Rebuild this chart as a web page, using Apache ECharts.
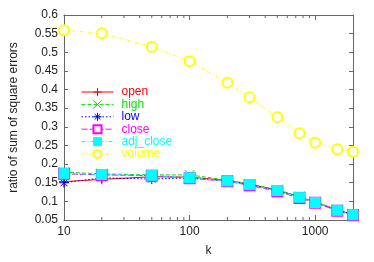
<!DOCTYPE html>
<html>
<head>
<meta charset="utf-8">
<script src="https://cdn.jsdelivr.net/npm/echarts@6/dist/echarts.min.js"></script>
<style>html,body{margin:0;padding:0;background:#fff;}#chart{width:374px;height:262px;}</style>
</head>
<body>
<div id="chart"></div>
<script>
const k = [10, 20, 50, 100, 200, 300, 500, 750, 1000, 1500, 2000];
const openVals = [0.153, 0.159, 0.166, 0.165, 0.156, 0.146, 0.130, 0.112, 0.098, 0.077, 0.065];
const highVals = [0.178, 0.174, 0.171, 0.171, 0.157, 0.147, 0.131, 0.113, 0.099, 0.078, 0.066];
const lowVals = [0.150, 0.163, 0.160, 0.163, 0.155, 0.145, 0.129, 0.111, 0.097, 0.076, 0.064];
const closeVals = [0.174, 0.171, 0.169, 0.162, 0.154, 0.143, 0.127, 0.109, 0.096, 0.075, 0.063];
const adjCloseVals = [0.175, 0.172, 0.170, 0.163, 0.155, 0.145, 0.129, 0.111, 0.097, 0.076, 0.064];
const volumeVals = [0.559, 0.551, 0.515, 0.476, 0.418, 0.379, 0.326, 0.283, 0.257, 0.240, 0.233];
const minorTicks = [20, 30, 40, 50, 60, 70, 80, 90, 200, 300, 400, 500, 600, 700, 800, 900];

const X_MIN = 10, X_MAX = 2000, Y_MIN = 0.05, Y_MAX = 0.6;
const FONT = 'Liberation Sans';
const AXIS_COLOR = '#666';

const SYM_PLUS = 'path://M5,0L5,10M0,5L10,5';
const SYM_X = 'path://M0,0L10,10M10,0L0,10';
const SYM_STAR = 'path://M5,0L5,10M0,5L10,5M1.5,1.5L8.5,8.5M8.5,1.5L1.5,8.5';

function pairs(vals) { return k.map((x, i) => [x, vals[i]]); }

function mkSeries(name, vals, color, symbol, dash, fill) {
  return {
    name: name,
    type: 'line',
    data: pairs(vals),
    symbol: symbol,
    symbolSize: 10,
    showSymbol: true,
    lineStyle: { color: color, width: 1, type: dash },
    itemStyle: { color: fill, borderColor: color, borderWidth: 1 },
    emphasis: { disabled: true },
    z: 3
  };
}

const series = [
  mkSeries('open', openVals, '#ff0000', SYM_PLUS, 'solid', '#ff0000'),
  mkSeries('high', highVals, '#00e000', SYM_X, [4, 2], '#00e000'),
  mkSeries('low', lowVals, '#0000ff', SYM_STAR, [1.5, 2], '#0000ff'),
  mkSeries('close', closeVals, '#ff00ff', 'emptyRect', [6, 2], '#ff00ff'),
  mkSeries('adj_close', adjCloseVals, '#00ffff', 'rect', [4, 2, 1, 2], '#00ffff'),
  mkSeries('volume', volumeVals, '#ffff00', 'emptyCircle', [3, 2, 1, 2], '#ffff00')
];

series.push({
  type: 'custom',
  silent: true,
  data: minorTicks.map(v => [v]),
  encode: { x: 0 },
  renderItem: function (params, api) {
    const v = api.value(0);
    const b = api.coord([v, Y_MIN]);
    const t = api.coord([v, Y_MAX]);
    const style = { stroke: AXIS_COLOR, lineWidth: 1 };
    return {
      type: 'group',
      children: [
        { type: 'line', shape: { x1: b[0], y1: b[1], x2: b[0], y2: b[1] - 3 }, style: style },
        { type: 'line', shape: { x1: t[0], y1: t[1], x2: t[0], y2: t[1] + 3 }, style: style }
      ]
    };
  },
  z: 2
});

const legendColors = { open: '#ff0000', high: '#00e000', low: '#0000ff', close: '#ff00ff', adj_close: '#00ffff', volume: '#ffff00' };

const option = {
  animation: false,
  backgroundColor: '#fff',
  textStyle: { fontFamily: FONT },
  grid: { left: 63, right: 21, top: 15, bottom: 38 },
  legend: {
    orient: 'vertical',
    left: 81,
    top: 86,
    itemWidth: 32,
    itemHeight: 10,
    itemGap: 0.4,
    padding: 0,
    lineStyle: { width: 1 },
    itemStyle: { borderWidth: 1 },
    data: Object.keys(legendColors).map(n => ({ name: n, textStyle: { color: legendColors[n] } })),
    textStyle: { fontFamily: FONT, fontSize: 12, lineHeight: 12, padding: [0, 0, 0, 3] },
    selectedMode: false
  },
  xAxis: [
    {
      type: 'log', logBase: 10, min: X_MIN, max: X_MAX,
      name: 'k', nameLocation: 'middle', nameGap: 25,
      nameTextStyle: { fontFamily: FONT, fontSize: 12, color: '#222' },
      axisLine: { show: true, lineStyle: { color: AXIS_COLOR, width: 1 } },
      axisTick: { show: true, inside: true, length: 5, lineStyle: { color: AXIS_COLOR } },
      axisLabel: { fontFamily: FONT, fontSize: 12, color: '#222', margin: 6, showMaxLabel: false,
        formatter: v => String(Math.round(v)) },
      splitLine: { show: false }
    },
    {
      type: 'log', logBase: 10, min: X_MIN, max: X_MAX, position: 'top',
      axisLine: { show: true, lineStyle: { color: AXIS_COLOR, width: 1 } },
      axisTick: { show: true, inside: true, length: 5, lineStyle: { color: AXIS_COLOR } },
      axisLabel: { show: false },
      splitLine: { show: false }
    }
  ],
  yAxis: [
    {
      type: 'value', min: Y_MIN, max: Y_MAX, interval: 0.05,
      name: 'ratio of sum of square errors', nameLocation: 'middle', nameGap: 44,
      nameTextStyle: { fontFamily: FONT, fontSize: 12, color: '#222' },
      axisLine: { show: true, lineStyle: { color: AXIS_COLOR, width: 1 } },
      axisTick: { show: true, inside: true, length: 4, lineStyle: { color: AXIS_COLOR } },
      axisLabel: { fontFamily: FONT, fontSize: 12, color: '#222', margin: 6 },
      splitLine: { show: false }
    },
    {
      type: 'value', min: Y_MIN, max: Y_MAX, interval: 0.05, position: 'right',
      axisLine: { show: true, lineStyle: { color: AXIS_COLOR, width: 1 } },
      axisTick: { show: true, inside: true, length: 4, lineStyle: { color: AXIS_COLOR } },
      axisLabel: { show: false },
      splitLine: { show: false }
    }
  ],
  series: series
};

const chart = echarts.init(document.getElementById('chart'), null, { renderer: 'canvas' });
chart.setOption(option);
</script>
</body>
</html>
